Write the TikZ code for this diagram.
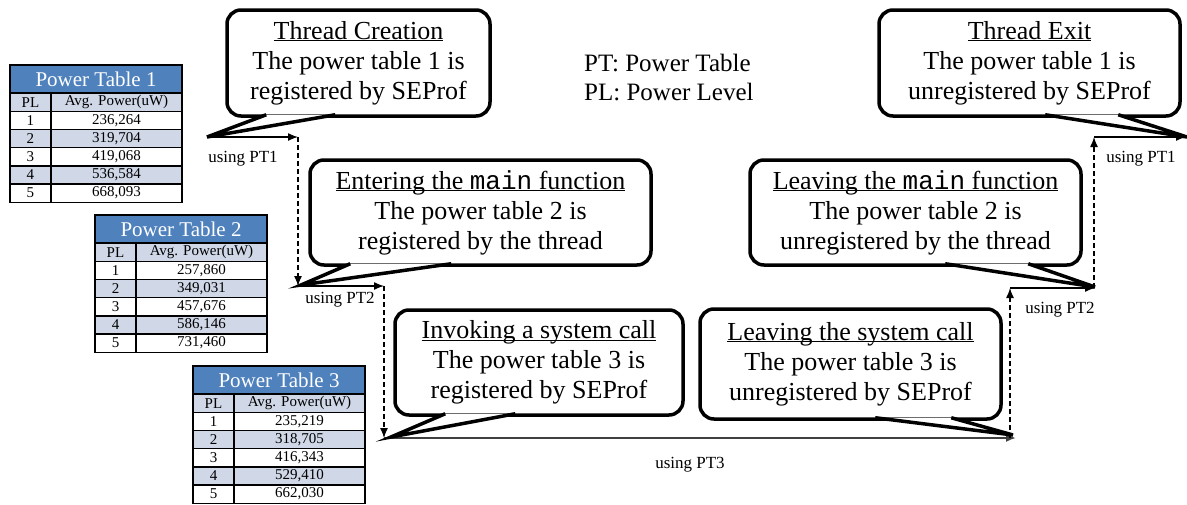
\documentclass[tikz,border=0pt]{standalone}
\usepackage{fontspec}
\setmainfont{Liberation Serif}
\setmonofont{Liberation Mono}
\usetikzlibrary{arrows.meta,calc}

\definecolor{ptblue}{HTML}{4F81BD}
\definecolor{ptband}{HTML}{D0D8E8}
\definecolor{flowgray}{HTML}{404040}

\newcommand{\ttl}[1]{\underline{\raisebox{0pt}[\height][0pt]{#1}}}

\tikzset{
	callbox/.style={draw,line width=3.5pt,rounded corners=14pt,fill=white,align=center,inner sep=0pt,
		font=\fontsize{26}{30}\selectfont},
	calltail/.style={line width=3.5pt,fill=white},
	flow/.style={line width=1.3pt,-{Latex[length=10pt,width=8pt]}},
	jump/.style={flow,dash pattern=on 5pt off 3pt},
	uselabel/.style={font=\fontsize{17}{20}\selectfont,inner sep=0pt},
	legend/.style={font=\fontsize{25}{30}\selectfont,inner sep=0pt,anchor=west},
	ptcell/.style={font=\fontsize{15}{17}\selectfont,inner sep=0pt},
	pthead/.style={text=white,font=\fontsize{21}{24}\selectfont,inner sep=0pt},
	ptline/.style={line width=1.4pt},
}

\begin{document}
\begin{tikzpicture}[x=1pt,y=-1pt]
	\useasboundingbox (0,0) rectangle (1187,504);
	% power tables
	\begin{scope}[shift={(10,65)}]
		\fill[ptblue] (0,0) rectangle (172,28);
		\fill[ptband] (0,28) rectangle (172,46.2);
		\fill[ptband] (0,64.4) rectangle (172,82.6);
		\fill[ptband] (0,100.8) rectangle (172,119);
		\node[pthead] (pt1) at (86,14.5) {Power Table 1};
		\node[ptcell] (pt1-pl) at (20.5,37.1) {PL};
		\node[ptcell] (pt1-avg) at (106.5,37.1) {Avg. Power(uW)};
		\foreach \pl/\val in {1/{236,264},2/{319,704},3/{419,068},4/{536,584},5/{668,093}}
		{
			\node[ptcell] (pt1-pl\pl) at (20.5,{37.1+18.2*\pl}) {\pl};
			\node[ptcell] (pt1-v\pl) at (106.5,{37.1+18.2*\pl}) {\val};
		}
		\foreach \y in {28,46.2,64.4,82.6,100.8,119}
			\draw[ptline] (0,\y) -- (172,\y);
		\draw[ptline] (41,28) -- (41,137.2);
		\draw[ptline] (0,0) rectangle (172,137.2);
	\end{scope}
	\begin{scope}[shift={(95,215)}]
		\fill[ptblue] (0,0) rectangle (172,28);
		\fill[ptband] (0,28) rectangle (172,46.2);
		\fill[ptband] (0,64.4) rectangle (172,82.6);
		\fill[ptband] (0,100.8) rectangle (172,119);
		\node[pthead] (pt2) at (86,14.5) {Power Table 2};
		\node[ptcell] (pt2-pl) at (20.5,37.1) {PL};
		\node[ptcell] (pt2-avg) at (106.5,37.1) {Avg. Power(uW)};
		\foreach \pl/\val in {1/{257,860},2/{349,031},3/{457,676},4/{586,146},5/{731,460}}
		{
			\node[ptcell] (pt2-pl\pl) at (20.5,{37.1+18.2*\pl}) {\pl};
			\node[ptcell] (pt2-v\pl) at (106.5,{37.1+18.2*\pl}) {\val};
		}
		\foreach \y in {28,46.2,64.4,82.6,100.8,119}
			\draw[ptline] (0,\y) -- (172,\y);
		\draw[ptline] (41,28) -- (41,137.2);
		\draw[ptline] (0,0) rectangle (172,137.2);
	\end{scope}
	\begin{scope}[shift={(193,366)}]
		\fill[ptblue] (0,0) rectangle (172,28);
		\fill[ptband] (0,28) rectangle (172,46.2);
		\fill[ptband] (0,64.4) rectangle (172,82.6);
		\fill[ptband] (0,100.8) rectangle (172,119);
		\node[pthead] (pt3) at (86,14.5) {Power Table 3};
		\node[ptcell] (pt3-pl) at (20.5,37.1) {PL};
		\node[ptcell] (pt3-avg) at (106.5,37.1) {Avg. Power(uW)};
		\foreach \pl/\val in {1/{235,219},2/{318,705},3/{416,343},4/{529,410},5/{662,030}}
		{
			\node[ptcell] (pt3-pl\pl) at (20.5,{37.1+18.2*\pl}) {\pl};
			\node[ptcell] (pt3-v\pl) at (106.5,{37.1+18.2*\pl}) {\val};
		}
		\foreach \y in {28,46.2,64.4,82.6,100.8,119}
			\draw[ptline] (0,\y) -- (172,\y);
		\draw[ptline] (41,28) -- (41,137.2);
		\draw[ptline] (0,0) rectangle (172,137.2);
	\end{scope}
	% legend
	\node[legend] (ptkey) at (584,63) {PT: Power Table};
	\node[legend] (plkey) at (584,92) {PL: Power Level};
	% flow of the thread
	\coordinate (c1) at (207,137);
	\coordinate (c2) at (298,137);
	\coordinate (c3) at (298,286);
	\coordinate (c4) at (384,286);
	\coordinate (c5) at (384,438);
	\coordinate (c6) at (1016,438);
	\coordinate (c7) at (1010,438);
	\coordinate (c8) at (1010,288);
	\coordinate (c9) at (1095,288);
	\coordinate (c10) at (1094,288);
	\coordinate (c11) at (1094,137);
	\coordinate (c12) at (1186,137);
	\draw[flow] (c1) -- (c2);
	\draw[jump] (c2) -- (c3);
	\draw[flow] (c3) -- (c4);
	\draw[jump] (c4) -- (c5);
	\draw[flow,flowgray,line width=1.8pt] (c5) -- (c6);
	\draw[jump] (c7) -- (c8);
	\draw[flow] (c8) -- (c9);
	\draw[jump] (c10) -- (c11);
	\draw[flow] (c11) -- (c12);
	\node[uselabel] (u1) at (243,159) {using PT1};
	\node[uselabel] (u2) at (340,300) {using PT2};
	\node[uselabel] (u3) at (690,465) {using PT3};
	\node[uselabel] (u4) at (1060,310) {using PT2};
	\node[uselabel] (u5) at (1141,159) {using PT1};
	% callouts
	\coordinate (t1) at (207,137);
	\coordinate (t2) at (301,285);
	\coordinate (t3) at (391,437);
	\coordinate (t4) at (1013,435);
	\coordinate (t5) at (1095,287);
	\coordinate (t6) at (1187,137);
	\node[callbox,minimum width=263pt,minimum height=106pt] (create) at (358.5,63)
		{\ttl{Thread Creation}\\The power table 1 is\\registered by SEProf};
	\draw[calltail] ($(create.south west)+(41pt,3pt)$) -- (t1) -- ($(create.south west)+(110pt,3pt)$);
	\node[callbox,minimum width=341pt,minimum height=105pt] (entermain) at (480.5,212.5)
		{\ttl{Entering the \texttt{main} function}\\The power table 2 is\\registered by the thread};
	\draw[calltail] ($(entermain.south west)+(42pt,3pt)$) -- (t2) -- ($(entermain.south west)+(143pt,3pt)$);
	\node[callbox,minimum width=288pt,minimum height=105pt] (entersys) at (539,362.5)
		{\ttl{Invoking a system call}\\The power table 3 is\\registered by SEProf};
	\draw[calltail] ($(entersys.south west)+(52pt,3pt)$) -- (t3) -- ($(entersys.south west)+(122pt,3pt)$);
	\node[callbox,minimum width=301pt,minimum height=110pt] (leavesys) at (850.5,364)
		{\ttl{Leaving the system call}\\The power table 3 is\\unregistered by SEProf};
	\draw[calltail] ($(leavesys.south west)+(177pt,3pt)$) -- (t4) -- ($(leavesys.south west)+(253pt,3pt)$);
	\node[callbox,minimum width=331pt,minimum height=105pt] (leavemain) at (915.5,212.5)
		{\ttl{Leaving the \texttt{main} function}\\The power table 2 is\\unregistered by the thread};
	\draw[calltail] ($(leavemain.south west)+(197pt,3pt)$) -- (t5) -- ($(leavemain.south west)+(280pt,3pt)$);
	\node[callbox,minimum width=301pt,minimum height=106pt] (exit) at (1029.5,63)
		{\ttl{Thread Exit}\\The power table 1 is\\unregistered by SEProf};
	\draw[calltail] ($(exit.south west)+(168pt,3pt)$) -- (t6) -- ($(exit.south west)+(241pt,3pt)$);
\end{tikzpicture}
\end{document}
